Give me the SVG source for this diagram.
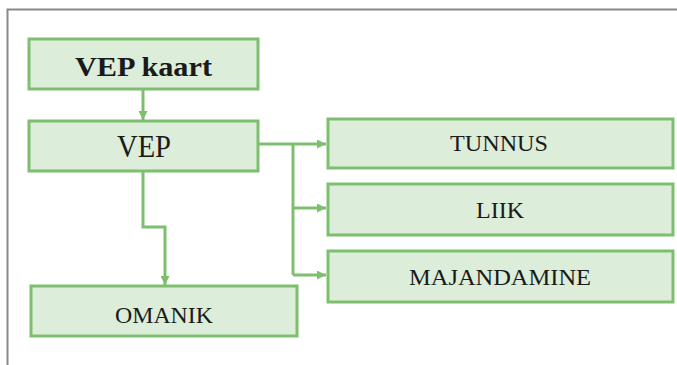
<svg xmlns="http://www.w3.org/2000/svg" width="677" height="365" viewBox="0 0 677 365">
<style>
.box{fill:#dcedd9;stroke:#7dbf6e;stroke-width:3}
.ln{fill:none;stroke:#7dbf6e;stroke-width:3}
text{font-family:'Liberation Serif','DejaVu Serif Condensed','DejaVu Serif',serif;font-stretch:condensed;fill:#1a1a1a;text-anchor:middle}
</style>
<defs>
<marker id="ah" viewBox="0 0 10 10" refX="10" refY="5" markerWidth="10" markerHeight="9" markerUnits="userSpaceOnUse" orient="auto">
<path d="M0,0 L10,5 L0,10 z" fill="#7dbf6e"/>
</marker>
</defs>
<rect width="677" height="365" fill="#ffffff"/>
<path d="M7.5,365 V9.5 H677" fill="none" stroke="#888888" stroke-width="2"/>
<g id="connectors">
<path class="ln" d="M143,89 V120" marker-end="url(#ah)"/>
<path class="ln" d="M258,144 H326" marker-end="url(#ah)"/>
<path class="ln" d="M293,144 V275"/>
<path class="ln" d="M293,208 H326" marker-end="url(#ah)"/>
<path class="ln" d="M293,275 H326" marker-end="url(#ah)"/>
<path class="ln" d="M143,171 V227 H165 V285" marker-end="url(#ah)"/>
</g>
<g id="vep-kaart">
<rect class="box" x="29" y="39" width="229" height="50"/>
<text x="143.5" y="76" font-size="28" font-weight="bold" textLength="137" lengthAdjust="spacingAndGlyphs">VEP kaart</text>
</g>
<g id="vep">
<rect class="box" x="29" y="121" width="229" height="50"/>
<text x="144" y="157" font-size="32" textLength="54" lengthAdjust="spacingAndGlyphs">VEP</text>
</g>
<g id="tunnus">
<rect class="box" x="328" y="119" width="345" height="49"/>
<text x="499" y="151" font-size="24" textLength="98" lengthAdjust="spacingAndGlyphs">TUNNUS</text>
</g>
<g id="liik">
<rect class="box" x="328" y="184" width="345" height="51"/>
<text x="500" y="218" font-size="24" textLength="48" lengthAdjust="spacingAndGlyphs">LIIK</text>
</g>
<g id="majandamine">
<rect class="box" x="328" y="251" width="345" height="51"/>
<text x="500" y="285" font-size="24" textLength="182" lengthAdjust="spacingAndGlyphs">MAJANDAMINE</text>
</g>
<g id="omanik">
<rect class="box" x="31" y="286" width="266" height="50"/>
<text x="164" y="323" font-size="23" textLength="98" lengthAdjust="spacingAndGlyphs">OMANIK</text>
</g>
</svg>
